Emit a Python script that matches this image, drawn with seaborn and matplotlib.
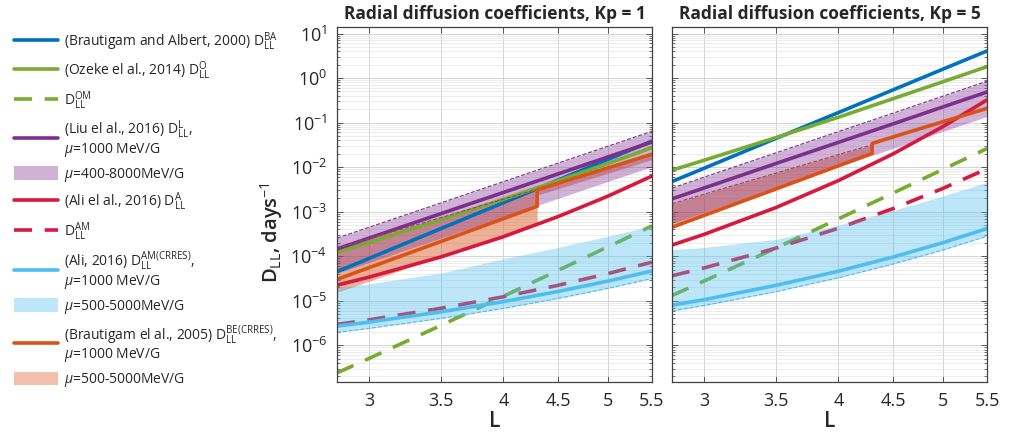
import matplotlib
matplotlib.use("Agg")
import matplotlib.pyplot as plt
import seaborn as sns
from matplotlib.lines import Line2D
from matplotlib.patches import Patch
from matplotlib.ticker import FixedLocator, FixedFormatter, LogLocator, NullFormatter, NullLocator

# L grid and values (days^-1)
L = [2.8, 3.0, 3.5, 4.0, 4.5, 5.0, 5.5]
L_step = [2.8, 3.0, 3.5, 4.0, 4.3, 4.3, 4.5, 5.0, 5.5]

# Kp = 1
ba_kp1 = [4.50e-5, 8.95e-5, 4.19e-4, 1.59e-3, 5.16e-3, 1.48e-2, 3.85e-2]
oz_kp1 = [1.22e-4, 2.04e-4, 6.62e-4, 1.90e-3, 4.97e-3, 1.20e-2, 2.75e-2]
ozm_kp1 = [2.40e-7, 5.09e-7, 2.81e-6, 1.26e-5, 4.84e-5, 1.61e-4, 4.79e-4]
liu_kp1 = [1.46e-4, 2.56e-4, 9.06e-4, 2.70e-3, 7.08e-3, 1.68e-2, 3.66e-2]
liu_hi_kp1 = [2.55e-4, 4.47e-4, 1.58e-3, 4.72e-3, 1.24e-2, 2.93e-2, 6.38e-2]
liu_lo_kp1 = [4.13e-5, 7.23e-5, 2.56e-4, 7.63e-4, 2.00e-3, 4.74e-3, 1.03e-2]
ali_kp1 = [2.24e-5, 3.40e-5, 9.66e-5, 2.74e-4, 7.80e-4, 2.21e-3, 6.30e-3]
alim_kp1 = [2.95e-6, 3.74e-6, 6.79e-6, 1.23e-5, 2.23e-5, 4.05e-5, 7.35e-5]
crr_kp1 = [2.69e-6, 3.33e-6, 5.64e-6, 9.57e-6, 1.62e-5, 2.75e-5, 4.67e-5]
crr_lo_kp1 = [1.95e-6, 2.40e-6, 4.02e-6, 6.73e-6, 1.13e-5, 1.89e-5, 3.16e-5]
crr_hi_kp1 = [2.0e-5, 2.4e-5, 4.2e-5, 8.7e-5, 1.58e-4, 2.8e-4, 4.8e-4]
be_kp1 = [3.02e-5, 5.55e-5, 2.15e-4, 6.97e-4, 1.32e-3, 3.09e-3, 4.37e-3, 9.55e-3, 1.95e-2]
be_hi_kp1 = [1.51e-4, 2.47e-4, 7.38e-4, 1.91e-3, 3.18e-3, 3.24e-3, 4.57e-3, 1.0e-2, 2.04e-2]
be_lo_kp1 = [1.55e-5, 2.75e-5, 9.9e-5, 3.01e-4, 5.5e-4, 2.34e-3, 3.31e-3, 7.24e-3, 1.48e-2]

# Kp = 5
ba_kp5 = [4.75e-3, 9.46e-3, 4.43e-2, 0.168, 0.546, 1.57, 4.06]
oz_kp5 = [8.53e-3, 1.43e-2, 4.62e-2, 0.132, 0.346, 0.82, 1.8]
ozm_kp5 = [1.31e-5, 2.78e-5, 1.53e-4, 6.90e-4, 2.64e-3, 8.81e-3, 2.61e-2]
liu_kp5 = [1.94e-3, 3.41e-3, 1.21e-2, 3.60e-2, 9.42e-2, 0.223, 0.486]
liu_hi_kp5 = [3.39e-3, 5.96e-3, 2.10e-2, 6.28e-2, 0.164, 0.390, 0.849]
liu_lo_kp5 = [5.48e-4, 9.64e-4, 3.41e-3, 1.02e-2, 2.66e-2, 6.31e-2, 0.137]
ali_kp5 = [1.78e-4, 3.10e-4, 1.24e-3, 4.99e-3, 2.00e-2, 8.04e-2, 0.323]
alim_kp5 = [3.63e-5, 5.47e-5, 1.52e-4, 4.25e-4, 1.18e-3, 3.30e-3, 9.18e-3]
crr_kp5 = [7.94e-6, 1.06e-5, 2.22e-5, 4.61e-5, 9.62e-5, 2.00e-4, 4.17e-4]
crr_lo_kp5 = [5.89e-6, 7.83e-6, 1.60e-5, 3.28e-5, 6.71e-5, 1.37e-4, 2.81e-4]
crr_hi_kp5 = [1.41e-4, 1.58e-4, 2.40e-4, 5.0e-4, 1.07e-3, 2.24e-3, 4.57e-3]
be_kp5 = [4.47e-4, 8.26e-4, 3.24e-3, 1.07e-2, 2.04e-2, 3.39e-2, 4.79e-2, 0.104, 0.209]
be_hi_kp5 = [1.51e-3, 2.47e-3, 7.38e-3, 1.91e-2, 3.18e-2, 3.55e-2, 5.01e-2, 0.108, 0.219]
be_lo_kp5 = be_kp5

x_ticks = [3, 3.5, 4, 4.5, 5, 5.5]
x_ticklabels = ["3", "3.5", "4", "4.5", "5", "5.5"]

c_blue = "#0072BD"
c_green = "#77AC30"
c_purple = "#7E2F8E"
c_red = "#D7193F"
c_cyan = "#4DBEEE"
c_orange = "#D95319"
c_bedash = "#A8405E"

sns.set_theme(style="whitegrid")
plt.rcParams['font.family'] = ['Open Sans', 'DejaVu Sans']
plt.rcParams['mathtext.fontset'] = 'custom'
plt.rcParams['mathtext.rm'] = 'Open Sans'
plt.rcParams['mathtext.it'] = 'Open Sans:italic'
plt.rcParams['mathtext.bf'] = 'Open Sans:bold'

fig = plt.figure(figsize=(10.14, 4.38), dpi=100)
ax1 = fig.add_axes([337/1014, 56/438, 315/1014, 355/438])
ax2 = fig.add_axes([672/1014, 56/438, 315/1014, 355/438])

lw = 2.6
dash = (0, (5, 3.5))
a_band = 0.37
a_be = 0.45


def panel(ax, ba, oz, ozm, liu, liu_hi, liu_lo, ali, alim, crr, crr_lo, crr_hi, be, be_hi, be_lo, kp):
    ax.set_xscale("log")
    ax.set_yscale("log")
    # bands for Brautigam and Liu sit under the lines, the CRRES band over them
    ax.fill_between(L_step, be_lo, be_hi, color=c_orange, alpha=a_be, lw=0, zorder=1.1)
    ax.fill_between(L, liu_lo, liu_hi, color=c_purple, alpha=a_band, lw=0, zorder=1.2)
    sns.lineplot(x=L, y=ba, ax=ax, color=c_blue, lw=lw, estimator=None, sort=False)
    sns.lineplot(x=L, y=oz, ax=ax, color=c_green, lw=lw, estimator=None, sort=False)
    sns.lineplot(x=L, y=ozm, ax=ax, color=c_green, lw=lw, linestyle=dash, estimator=None, sort=False)
    sns.lineplot(x=L, y=liu, ax=ax, color=c_purple, lw=lw, estimator=None, sort=False)
    sns.lineplot(x=L, y=liu_hi, ax=ax, color=c_purple, lw=0.8, linestyle="--", estimator=None, sort=False)
    sns.lineplot(x=L, y=ali, ax=ax, color=c_red, lw=lw, estimator=None, sort=False)
    sns.lineplot(x=L, y=alim, ax=ax, color=c_red, lw=lw, linestyle=dash, estimator=None, sort=False)
    sns.lineplot(x=L, y=crr, ax=ax, color=c_cyan, lw=lw, estimator=None, sort=False)
    ax.fill_between(L, crr_lo, crr_hi, color=c_cyan, alpha=a_band, lw=0, zorder=2)
    sns.lineplot(x=L, y=crr_lo, ax=ax, color=c_cyan, lw=0.8, linestyle="--", estimator=None, sort=False)
    sns.lineplot(x=L_step[:5], y=be_hi[:5], ax=ax, color=c_bedash, lw=0.8, linestyle="--", estimator=None, sort=False)
    sns.lineplot(x=L_step, y=be, ax=ax, color=c_orange, lw=lw, estimator=None, sort=False)

    ax.set_xlim(2.8, 5.5)
    ax.set_ylim(1.5e-7, 14)
    ax.xaxis.set_major_locator(FixedLocator(x_ticks))
    ax.xaxis.set_major_formatter(FixedFormatter(x_ticklabels))
    ax.xaxis.set_minor_locator(NullLocator())
    ax.yaxis.set_major_locator(LogLocator(base=10, numticks=20))
    ax.yaxis.set_minor_locator(LogLocator(base=10, subs=range(2, 10), numticks=20))
    ax.yaxis.set_minor_formatter(NullFormatter())
    ax.grid(True, which="major", color="#d4d4d4", lw=0.7)
    ax.grid(True, which="minor", axis="y", color="#e6e6e6", lw=0.5)
    ax.tick_params(which="both", direction="in", top=True, right=True, bottom=True, left=True,
                   color="#404040", labelsize=13, pad=7)
    ax.tick_params(which="major", length=4, width=0.6)
    ax.tick_params(which="minor", length=2, width=0.5)
    for s in ax.spines.values():
        s.set_color("#404040")
        s.set_linewidth(0.9)
    ax.set_xlabel("L", fontsize=15, fontweight="semibold", labelpad=1)
    ax.set_ylabel("")
    ax.set_title(f"Radial diffusion coefficients, Kp = {kp}", fontsize=12.5, fontweight="bold", pad=6)


panel(ax1, ba_kp1, oz_kp1, ozm_kp1, liu_kp1, liu_hi_kp1, liu_lo_kp1, ali_kp1, alim_kp1,
      crr_kp1, crr_lo_kp1, crr_hi_kp1, be_kp1, be_hi_kp1, be_lo_kp1, 1)
panel(ax2, ba_kp5, oz_kp5, ozm_kp5, liu_kp5, liu_hi_kp5, liu_lo_kp5, ali_kp5, alim_kp5,
      crr_kp5, crr_lo_kp5, crr_hi_kp5, be_kp5, be_hi_kp5, be_lo_kp5, 5)
ax2.tick_params(axis="y", labelleft=False)

fig.text(272/1014, 0.47, r"D$_{\mathrm{LL}}$, days$^{\mathrm{-1}}$", rotation=90,
         fontsize=14.5, fontweight="semibold", ha="center", va="center")

# legend on the left
handles = [
    Line2D([], [], color=c_blue, lw=lw),
    Line2D([], [], color=c_green, lw=lw),
    Line2D([], [], color=c_green, lw=lw, linestyle=dash),
    Line2D([], [], color=c_purple, lw=lw),
    Patch(facecolor=c_purple, alpha=a_band, lw=0),
    Line2D([], [], color=c_red, lw=lw),
    Line2D([], [], color=c_red, lw=lw, linestyle=dash),
    Line2D([], [], color=c_cyan, lw=lw),
    Patch(facecolor=c_cyan, alpha=a_band, lw=0),
    Line2D([], [], color=c_orange, lw=lw),
    Patch(facecolor=c_orange, alpha=a_band, lw=0),
]
labels = [
    r"(Brautigam and Albert, 2000) D$_{\mathrm{LL}}^{\mathrm{BA}}$",
    r"(Ozeke el al., 2014) D$_{\mathrm{LL}}^{\mathrm{O}}$",
    r"D$_{\mathrm{LL}}^{\mathrm{OM}}$",
    "(Liu el al., 2016) D$_{\\mathrm{LL}}^{\\mathrm{L}}$,\n$\\mu$=1000 MeV/G",
    r"$\mu$=400-8000MeV/G",
    r"(Ali el al., 2016) D$_{\mathrm{LL}}^{\mathrm{A}}$",
    r"D$_{\mathrm{LL}}^{\mathrm{AM}}$",
    "(Ali, 2016) D$_{\\mathrm{LL}}^{\\mathrm{AM(CRRES)}}$,\n$\\mu$=1000 MeV/G",
    r"$\mu$=500-5000MeV/G",
    "(Brautigam el al., 2005) D$_{\\mathrm{LL}}^{\\mathrm{BE(CRRES)}}$,\n$\\mu$=1000 MeV/G",
    r"$\mu$=500-5000MeV/G",
]
leg = fig.legend(handles, labels, loc="upper left", bbox_to_anchor=(14/1014, 1 - 30/438),
                 frameon=False, fontsize=10, handlelength=3.2, handleheight=1.1,
                 handletextpad=0.4, labelspacing=0.5, borderpad=0, borderaxespad=0)
for t in leg.get_texts():
    t.set_linespacing(0.95)

fig.savefig("out.png", dpi=100)
